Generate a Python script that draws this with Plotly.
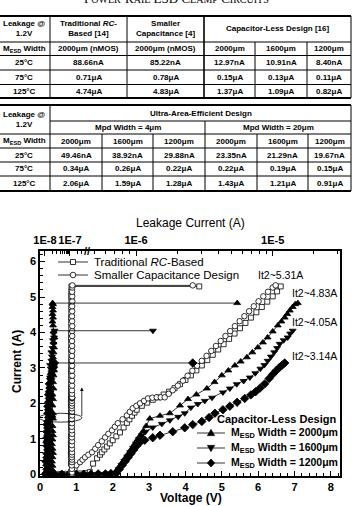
import math
import plotly.graph_objects as go

# ---------------- table data ----------------
t1_head = ["Leakage @<br>1.2V", "Traditional <i>RC</i>-<br>Based [14]",
           "Smaller<br>Capacitance [4]", "Capacitor-Less Design [16]"]
width_label = "M<sub>ESD</sub> Width"
t1_widths = ["2000μm (nMOS)", "2000μm (nMOS)", "2000μm", "1600μm", "1200μm"]
temps = ["25°C", "75°C", "125°C"]
t1_vals = [["88.66nA", "85.22nA", "12.97nA", "10.91nA", "8.40nA"],
           ["0.71μA", "0.78μA", "0.15μA", "0.13μA", "0.11μA"],
           ["4.74μA", "4.83μA", "1.37μA", "1.09μA", "0.82μA"]]
t2_head = ["Leakage @<br>1.2V", "Ultra-Area-Efficient Design"]
t2_sub = ["Mpd Width = 4μm", "Mpd Width = 20μm"]
t2_widths = ["2000μm", "1600μm", "1200μm", "2000μm", "1600μm", "1200μm"]
t2_vals = [["49.46nA", "38.92nA", "29.88nA", "23.35nA", "21.29nA", "19.67nA"],
           ["0.34μA", "0.26μA", "0.22μA", "0.22μA", "0.19μA", "0.15μA"],
           ["2.06μA", "1.59μA", "1.28μA", "1.43μA", "1.21μA", "0.91μA"]]

# ---------------- chart data ----------------
# Traditional RC-based (open squares)
sq_V = [0.30, 0.60, 0.90, 1.10, 1.25, 1.37, 1.46, 1.57, 1.65, 1.70,
        1.77, 1.84, 1.92, 2.00, 2.10, 2.20, 2.30, 2.39, 2.46, 2.53,
        2.60, 2.66, 2.80, 2.95, 3.10, 3.25, 3.40, 3.55, 3.70, 3.85,
        4.00, 4.15, 4.30, 4.45, 4.60, 4.75, 4.90, 5.05, 5.20, 5.35,
        5.50, 5.65, 5.80, 5.95, 6.10, 6.25, 6.40, 6.52, 6.62]
sq_I = [0.00, 0.00, 0.01, 0.02, 0.03, 0.06, 0.30, 0.45, 0.55, 0.62,
        0.70, 0.78, 0.87, 0.96, 1.07, 1.18, 1.32, 1.45, 1.55, 1.65,
        1.74, 1.82, 1.93, 2.02, 2.10, 2.17, 2.25, 2.33, 2.43, 2.54,
        2.66, 2.79, 2.93, 3.07, 3.22, 3.37, 3.52, 3.67, 3.82, 3.97,
        4.12, 4.27, 4.42, 4.57, 4.72, 4.87, 5.02, 5.16, 5.30]
sq_leak_nA = [108, 110, 109, 111, 110, 108, 110, 111, 109, 110,
              111, 110, 109, 111, 110, 112, 110, 109, 111, 110,
              112, 111, 110, 109, 111, 110, 112, 111, 110, 111,
              112, 111, 110, 112, 111, 113, 111, 112, 110, 111,
              113, 112, 111, 113, 112, 114, 112, 113, 115]
sq_fail_A = 2.9e-6

# Smaller capacitance design (open circles)
cir_V = [0.30, 0.50, 0.70, 0.85, 0.95, 1.00, 1.10, 1.17, 1.24, 1.33,
         1.43, 1.52, 1.60, 1.70, 1.79, 1.88, 1.98, 2.06, 2.14, 2.27,
         2.39, 2.47, 2.55, 2.65, 2.75, 2.86, 2.97, 3.09, 3.21, 3.32,
         3.43, 3.54, 3.65, 3.79, 3.93, 4.06, 4.19, 4.32, 4.45, 4.58,
         4.71, 4.84, 4.97, 5.10, 5.23, 5.36, 5.49, 5.62, 5.75, 5.88,
         6.01, 6.14, 6.27, 6.40, 6.48]
cir_I = [0.00, 0.00, 0.01, 0.05, 0.15, 0.25, 0.34, 0.41, 0.48, 0.55,
         0.62, 0.72, 0.82, 0.93, 1.04, 1.14, 1.24, 1.34, 1.44, 1.55,
         1.66, 1.76, 1.86, 1.93, 2.00, 2.07, 2.14, 2.16, 2.17, 2.17,
         2.17, 2.27, 2.37, 2.50, 2.64, 2.78, 2.92, 3.06, 3.20, 3.34,
         3.48, 3.62, 3.76, 3.90, 4.04, 4.18, 4.32, 4.46, 4.60, 4.74,
         4.88, 5.02, 5.15, 5.27, 5.33]
cir_leak_nA = [118, 120, 119, 121, 120, 118, 120, 121, 119, 120,
               121, 120, 119, 121, 120, 122, 120, 119, 121, 120,
               122, 121, 120, 119, 121, 120, 122, 121, 120, 121,
               122, 121, 120, 122, 121, 123, 121, 122, 120, 121,
               123, 122, 121, 123, 122, 124, 122, 121, 123, 122,
               124, 123, 122, 124, 125]
cir_fail_A = 2.6e-6

# Capacitor-less, MESD width 2000um (up triangles)
tri_V = [0.40, 0.60, 0.80, 1.00, 1.20, 1.40, 1.60, 1.80, 1.95, 2.05,
         2.12, 2.20, 2.28, 2.36, 2.44, 2.52, 2.60, 2.68, 2.76, 2.84,
         2.92, 3.02, 3.30, 3.57, 3.85, 4.07, 4.30, 4.59, 4.80, 5.00,
         5.18, 5.36, 5.52, 5.69, 5.84, 5.99, 6.13, 6.26, 6.40, 6.54,
         6.64, 6.73, 6.80, 6.87, 6.95, 7.02, 7.09]
tri_I = [0.00, 0.00, 0.00, 0.00, 0.00, 0.00, 0.01, 0.01, 0.02, 0.04,
         0.12, 0.24, 0.36, 0.48, 0.60, 0.72, 0.85, 0.98, 1.10, 1.22,
         1.36, 1.57, 1.65, 1.72, 1.94, 2.12, 2.25, 2.42, 2.60, 2.79,
         2.93, 3.07, 3.18, 3.30, 3.44, 3.58, 3.72, 3.86, 4.03, 4.20,
         4.31, 4.42, 4.52, 4.62, 4.72, 4.80, 4.83]
tri_leak_nA = [19, 19, 20, 19, 20, 19, 20, 19, 20, 19,
               20, 20, 19, 20, 21, 20, 19, 20, 21, 20,
               20, 21, 20, 21, 20, 21, 20, 22, 21, 22,
               23, 21, 20, 21, 22, 23, 22, 24, 22, 21,
               20, 21, 20, 21, 20, 21, 20]
tri_fail_A = 5.5e-6

# Capacitor-less, MESD width 1600um (down triangles)
inv_V = [0.40, 0.60, 0.80, 1.00, 1.20, 1.40, 1.60, 1.80, 1.95, 2.08,
         2.16, 2.24, 2.32, 2.40, 2.48, 2.56, 2.64, 2.72, 2.80, 2.90,
         3.10, 3.35, 3.57, 3.80, 3.98, 4.15, 4.34, 4.53, 4.73, 5.03,
         5.22, 5.41, 5.60, 5.77, 5.92, 6.06, 6.17, 6.26, 6.35, 6.44,
         6.52, 6.59, 6.70, 6.81, 6.88, 6.95]
inv_I = [0.00, 0.00, 0.00, 0.00, 0.00, 0.00, 0.01, 0.01, 0.02, 0.03,
         0.14, 0.26, 0.38, 0.50, 0.62, 0.74, 0.87, 0.99, 1.10, 1.20,
         1.32, 1.42, 1.52, 1.62, 1.72, 1.88, 1.98, 2.07, 2.16, 2.31,
         2.42, 2.54, 2.63, 2.73, 2.85, 2.98, 3.08, 3.20, 3.32, 3.44,
         3.56, 3.68, 3.78, 3.86, 3.97, 4.05]
inv_leak_nA = [14, 13, 14, 13, 14, 14, 13, 14, 14, 13,
               14, 15, 14, 13, 14, 15, 14, 14, 15, 14,
               15, 14, 15, 16, 15, 14, 15, 16, 17, 16,
               15, 16, 17, 16, 18, 17, 16, 18, 19, 18,
               20, 22, 21, 23, 22, 24]
inv_fail_A = 1.33e-6

# Capacitor-less, MESD width 1200um (diamonds)
dia_V = [0.40, 0.60, 0.80, 1.00, 1.20, 1.40, 1.60, 1.80, 1.95, 2.10,
         2.18, 2.26, 2.34, 2.42, 2.50, 2.58, 2.66, 2.75, 2.88, 3.10,
         3.30, 3.65, 3.98, 4.20, 4.45, 4.65, 4.81, 5.03, 5.22, 5.42,
         5.63, 5.80, 5.93, 6.05, 6.18, 6.30, 6.40, 6.50, 6.59, 6.66,
         6.73]
dia_I = [0.00, 0.00, 0.00, 0.00, 0.00, 0.00, 0.01, 0.01, 0.02, 0.03,
         0.14, 0.25, 0.36, 0.47, 0.58, 0.69, 0.80, 0.90, 0.96, 1.03,
         1.10, 1.20, 1.31, 1.40, 1.49, 1.60, 1.72, 1.82, 1.92, 2.03,
         2.14, 2.24, 2.33, 2.43, 2.55, 2.70, 2.82, 2.93, 3.02, 3.08,
         3.14]
dia_leak_nA = [11, 12, 11, 12, 11, 12, 12, 11, 12, 11,
               12, 12, 11, 12, 12, 13, 12, 12, 13, 12,
               13, 12, 13, 12, 13, 14, 13, 14, 13, 14,
               15, 14, 15, 16, 15, 17, 18, 20, 22, 21,
               24]
dia_fail_A = 2.6e-6

it2_labels = ["It2~5.31A", "It2~4.83A", "It2~4.05A", "It2~3.14A"]
top_tick_A = [1e-8, 1e-7, 1e-6, 1e-5]
top_tick_text = ["1E-8", "1E-7", "1E-6", "1E-5"]
top_minor_A = ([k * 1e-8 for k in range(2, 10)] + [2e-7, 3e-7]
               + [k * 1e-7 for k in range(5, 10)]
               + [k * 1e-6 for k in range(2, 10)] + [2e-5, 3e-5])

# ---------------- geometry ----------------
W, H = 357, 506
ML, MR, MT, MB = 40, 17, 251, 30
PW, PH = W - ML - MR, H - MT - MB
XR = [0, 8.25]
YR = [-0.05, 6.3]

# broken log scale of the top (leakage) axis, expressed in bottom-axis units
X_1E8, DEC_L = 0.137, 0.687
X_1E6, DEC_R = 2.64, 3.76
LEFT_MAX = 3.5e-7


def leak_x(amps):
    if amps <= LEFT_MAX:
        return X_1E8 + DEC_L * math.log10(amps / 1e-8)
    return X_1E6 + DEC_R * math.log10(amps / 1e-6)


def xp(px):
    return (px - ML) / PW


def yp(py):
    return 1 - (py - MT) / PH


FONT = "Liberation Sans"
BLK = "black"

fig = go.Figure()

series = [
    dict(V=sq_V, I=sq_I, leak=sq_leak_nA, fail=sq_fail_A, symbol="square", size=5, open=True),
    dict(V=cir_V, I=cir_I, leak=cir_leak_nA, fail=cir_fail_A, symbol="circle", size=5.5, open=True),
    dict(V=tri_V, I=tri_I, leak=tri_leak_nA, fail=tri_fail_A, symbol="triangle-up", size=6, open=False),
    dict(V=inv_V, I=inv_I, leak=inv_leak_nA, fail=inv_fail_A, symbol="triangle-down", size=6, open=False),
    dict(V=dia_V, I=dia_I, leak=dia_leak_nA, fail=dia_fail_A, symbol="diamond", size=6.5, open=False),
]

for s in series:
    mk = dict(symbol=s["symbol"], size=s["size"],
              color="white" if s["open"] else BLK,
              line=dict(color=BLK, width=0.8))
    # I-V (bottom axis)
    fig.add_trace(go.Scatter(x=s["V"], y=s["I"], mode="lines+markers",
                             line=dict(color=BLK, width=0.8), marker=mk,
                             showlegend=False, xaxis="x", yaxis="y"))
    # leakage (top axis) + jump to failure leakage
    lx = [leak_x(v * 1e-9) for v in s["leak"]] + [leak_x(s["fail"])]
    ly = list(s["I"]) + [s["I"][-1]]
    fig.add_trace(go.Scatter(x=lx, y=ly, mode="lines+markers",
                             line=dict(color=BLK, width=0.8), marker=mk,
                             showlegend=False, xaxis="x2", yaxis="y"))

shapes = []
ann = []


def line(x0, y0, x1, y1, w=1.0):
    shapes.append(dict(type="line", xref="paper", yref="paper",
                       x0=xp(x0), x1=xp(x1), y0=yp(y0), y1=yp(y1),
                       line=dict(color=BLK, width=w)))


def text(px, py, t, size=8, bold=True, xanchor="center", family=FONT, angle=0, italic=False):
    ann.append(dict(x=xp(px), y=yp(py), xref="paper", yref="paper", text=t,
                    showarrow=False, xanchor=xanchor, yanchor="middle", textangle=angle,
                    font=dict(family=family, size=size, color=BLK,
                              weight="bold" if bold else "normal",
                              style="italic" if italic else "normal")))


# ---------------- page title (cut off at top, as in the source page) ----------------
sc = "<span style='font-size:10px'>"
text(176, -1.5, "P" + sc + "OWER</span>-R" + sc + "AIL</span> ESD C" + sc + "LAMP</span> C" + sc + "IRCUITS</span>",
     size=13, bold=False, family="Liberation Serif")

# ---------------- table 1 ----------------
TF = 8
c1 = [-6, 50, 127, 204, 255, 307, 351]
r1 = [16, 42, 55.5, 70, 84.5, 98]
line(c1[0], r1[0], c1[-1], r1[0], 2)
line(c1[0], r1[-1], c1[-1], r1[-1], 2)
for yy in r1[1:-1]:
    line(c1[0], yy, c1[-1], yy, 1)
for i, xx in enumerate(c1):
    top = r1[1] if i in (4, 5) else r1[0]
    line(xx, top, xx, r1[-1], 1.6 if i == 3 else 1)
hc = [(c1[0] + c1[1]) / 2, (c1[1] + c1[2]) / 2, (c1[2] + c1[3]) / 2, (c1[3] + c1[6]) / 2]
for k, t in enumerate(t1_head):
    text(hc[k] + (2 if k == 0 else 0), 29, t, TF)
ccent = [(c1[i] + c1[i + 1]) / 2 for i in range(6)]
rcent = [(r1[i] + r1[i + 1]) / 2 for i in range(1, 5)]
text(ccent[0] + 2, rcent[0], width_label, TF)
for j, w in enumerate(t1_widths):
    text(ccent[j + 1], rcent[0], w, TF)
for r, tp in enumerate(temps):
    text(ccent[0] + 2, rcent[r + 1], tp, TF)
    for j, v in enumerate(t1_vals[r]):
        text(ccent[j + 1], rcent[r + 1], v, TF)

# ---------------- table 2 ----------------
c2 = [-6, 50, 102, 153, 205, 257, 308, 351]
r2 = [105, 121, 134, 148, 162, 176, 191]
line(c2[0], r2[0], c2[-1], r2[0], 2)
line(c2[0], r2[-1], c2[-1], r2[-1], 2)
line(c2[1], r2[1], c2[-1], r2[1], 1)
for yy in r2[2:-1]:
    line(c2[0], yy, c2[-1], yy, 1)
for i, xx in enumerate(c2):
    if i in (0, 1, 7):
        top = r2[0]
    elif i == 4:
        top = r2[1]
    else:
        top = r2[2]
    line(xx, top, xx, r2[-1], 1)
text((c2[0] + c2[1]) / 2 + 2, (r2[0] + r2[2]) / 2, t2_head[0], TF)
text((c2[1] + c2[7]) / 2, (r2[0] + r2[1]) / 2, t2_head[1], TF)
text((c2[1] + c2[4]) / 2, (r2[1] + r2[2]) / 2, t2_sub[0], TF)
text((c2[4] + c2[7]) / 2, (r2[1] + r2[2]) / 2, t2_sub[1], TF)
cc2 = [(c2[i] + c2[i + 1]) / 2 for i in range(7)]
rc2 = [(r2[i] + r2[i + 1]) / 2 for i in range(2, 6)]
text(cc2[0] + 2, rc2[0], width_label, TF)
for j, w in enumerate(t2_widths):
    text(cc2[j + 1], rc2[0], w, TF)
for r, tp in enumerate(temps):
    text(cc2[0] + 2, rc2[r + 1], tp, TF)
    for j, v in enumerate(t2_vals[r]):
        text(cc2[j + 1], rc2[r + 1], v, TF)

# ---------------- chart annotations ----------------
text(190, 223, "Leakage Current (A)", 12, bold=False)
text(191, 498, "Voltage (V)", 12)
text(17, 362, "Current (A)", 12, angle=-90)
text(87, 251, "//", 11)
it2_pos = [(280, 275), (314, 293), (314, 322), (314, 356)]
for (px, py), t in zip(it2_pos, it2_labels):
    text(px, py, t, 10.5, bold=False)

top_leg = [(262, "Traditional <i>RC</i>-Based", "square"),
           (275, "Smaller Capacitance Design", "circle")]
bot_leg = [(433, "M<sub>ESD</sub> Width = 2000μm", "up"),
           (448, "M<sub>ESD</sub> Width = 1600μm", "down"),
           (463, "M<sub>ESD</sub> Width = 1200μm", "diamond")]


def key(cx, cy, kind):
    base = dict(xref="paper", yref="paper", xsizemode="pixel", ysizemode="pixel",
                xanchor=xp(cx), yanchor=yp(cy), line=dict(color=BLK, width=0.8))
    if kind == "square":
        shapes.append(dict(base, type="rect", x0=-2.5, x1=2.5, y0=-2.5, y1=2.5, fillcolor="white"))
    elif kind == "circle":
        shapes.append(dict(base, type="circle", x0=-2.8, x1=2.8, y0=-2.8, y1=2.8, fillcolor="white"))
    elif kind == "up":
        shapes.append(dict(base, type="path", path="M-3.5,-2.6 L3.5,-2.6 L0,3.6 Z", fillcolor=BLK))
    elif kind == "down":
        shapes.append(dict(base, type="path", path="M-3.5,2.6 L3.5,2.6 L0,-3.6 Z", fillcolor=BLK))
    else:
        shapes.append(dict(base, type="path", path="M0,4 L3.6,0 L0,-4 L-3.6,0 Z", fillcolor=BLK))


for py, t, kind in top_leg:
    line(58, py, 88, py, 0.8)
    key(73, py, kind)
    text(92, py, t, 11.5, bold=False, xanchor="left")
text(338, 419, "Capacitor-Less Design", 11, xanchor="right")
for py, t, kind in bot_leg:
    line(197, py, 225, py, 0.8)
    key(211, py, kind)
    text(229, py, t, 10.5, xanchor="left")

# ellipse with arrow pointing to the leakage axis
shapes.append(dict(type="circle", xref="x", yref="y", x0=-0.02, x1=1.15, y0=1.47, y1=1.72,
                   line=dict(color=BLK, width=0.8)))
ann.append(dict(x=1.15, y=2.45, ax=1.15, ay=1.6, xref="x", yref="y", axref="x", ayref="y",
                text="", showarrow=True, arrowhead=2, arrowsize=0.9, arrowwidth=0.8, arrowcolor=BLK))

tickfont = dict(family=FONT, size=11, color=BLK, weight="bold")
fig.update_layout(
    width=W, height=H, margin=dict(l=ML, r=MR, t=MT, b=MB),
    paper_bgcolor="white", plot_bgcolor="white", showlegend=False,
    font=dict(family=FONT, color=BLK),
    xaxis=dict(range=XR, showline=True, linecolor=BLK, linewidth=1.5, mirror=True,
               ticks="inside", ticklen=5, tickwidth=1, tickcolor=BLK, dtick=1, tick0=0,
               minor=dict(dtick=0.2, ticks="inside", ticklen=3, tickcolor=BLK),
               tickfont=tickfont, showgrid=False, zeroline=False),
    xaxis2=dict(range=XR, overlaying="x", side="top", anchor="y",
                tickmode="array", tickvals=[leak_x(a) for a in top_tick_A], ticktext=top_tick_text,
                ticks="inside", ticklen=5, tickwidth=1, tickcolor=BLK, tickangle=0,
                ticklabelstandoff=4,
                minor=dict(tickmode="array", tickvals=[leak_x(a) for a in top_minor_A],
                           ticks="inside", ticklen=3, tickcolor=BLK),
                tickfont=tickfont, showgrid=False, zeroline=False, showline=False),
    yaxis=dict(range=YR, showline=True, linecolor=BLK, linewidth=1.5, mirror=True,
               ticks="inside", ticklen=5, tickwidth=1, tickcolor=BLK, dtick=1, tick0=0,
               minor=dict(dtick=0.2, ticks="inside", ticklen=3, tickcolor=BLK),
               tickfont=tickfont, showgrid=False, zeroline=False),
    shapes=shapes, annotations=ann,
)

fig.write_html("out.html")
